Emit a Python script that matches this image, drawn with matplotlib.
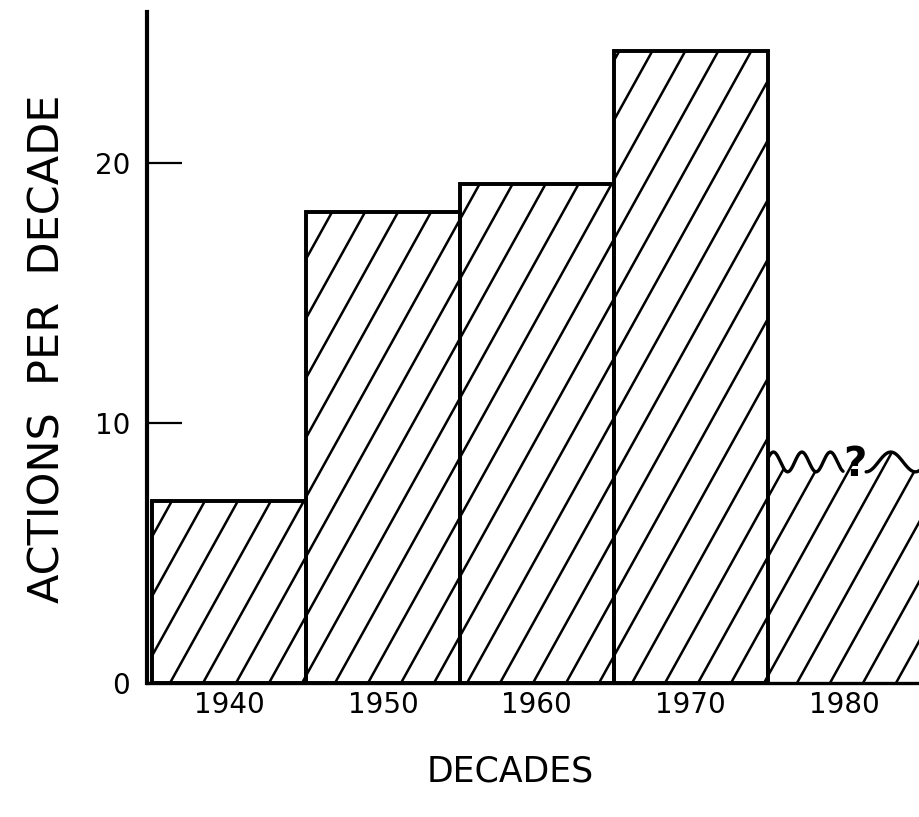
import numpy as np
import matplotlib
matplotlib.use("Agg")
import matplotlib.pyplot as plt
from matplotlib.collections import LineCollection
from matplotlib.patches import Polygon

# ---- data ----
decades = [1940, 1950, 1960, 1970, 1980]
actions = [7.0, 18.1, 19.2, 24.3, 8.5]
tick_labels = ["1940", "1950", "1960", "1970", "1980"]
y_ticks = [0, 10, 20]
y_tick_labels = ["0", "10", "20"]
uncertain_mark = "?"

plt.rcParams['font.family'] = ['DejaVu Sans']

W, H = 920, 817
fig = plt.figure(figsize=(W / 100, H / 100), dpi=100)
ax = fig.add_axes([147 / W, 134 / H, (W - 147) / W, (683 - 12) / H])
ax.set_xlim(1934.67, 1984.9)
ax.set_ylim(0, 25.8)

bars = ax.bar(decades, actions, width=10, align='center',
              facecolor='white', edgecolor='black', linewidth=2.6, zorder=2)
# last (uncertain) bar: no outline, drawn with wavy top instead
bars[-1].set_edgecolor('none')

# ---- hatch helper (pixel-space diagonal lines) ----
ang = np.deg2rad(61)
spacing = 33.0
x0_px = 170.0
base_px = 134.0
inv = ax.transData.inverted()


def hatch_lines():
    segs = []
    for k in range(-30, 40):
        xb = x0_px + k * spacing
        y0, y1 = base_px - 20, base_px + 720
        xa = xb + (y0 - base_px) / np.tan(ang)
        xc = xb + (y1 - base_px) / np.tan(ang)
        p = inv.transform([[xa, y0], [xc, y1]])
        segs.append(p)
    return segs


for b in bars[:-1]:
    lc = LineCollection(hatch_lines(), colors='black', linewidths=1.8, zorder=3)
    ax.add_collection(lc)
    lc.set_clip_path(b)
    ax.add_patch(plt.Rectangle(b.get_xy(), b.get_width(), b.get_height(),
                               fill=False, edgecolor='black', linewidth=2.6, zorder=4))

# ---- uncertain 1980 bar: wavy top ----
lb = bars[-1]
left = lb.get_x()
v = lb.get_height()
xa = np.linspace(left, left + 4.9, 150)
ya = v + 0.38 * np.sin(2 * np.pi * (xa - left) / 1.85 + 0.3)
xb2 = np.linspace(left + 6.4, 1985.6, 120)
yb2 = v + 0.38 * np.sin(2 * np.pi * (xb2 - (left + 6.4)) / 3.2 - np.pi / 2)
ax.plot(xa, ya, color='black', lw=2.4, zorder=4, solid_capstyle='round')
ax.plot(xb2, yb2, color='black', lw=2.4, zorder=4, solid_capstyle='round')
ax.vlines(left, 0, ya[0], colors='black', lw=2.6, zorder=4)
ax.text(left + 5.65, v - 0.1, uncertain_mark, fontsize=29, fontweight='bold',
        ha='center', va='center', zorder=5)

xs = np.concatenate([xa, np.linspace(xa[-1], xb2[0], 10)[1:-1], xb2])
ys = np.concatenate([ya, np.full(8, v), yb2])
clip_poly = Polygon(np.column_stack([np.r_[xs, xs[-1], xs[0]], np.r_[ys, 0, 0]]),
                    closed=True, transform=ax.transData, facecolor='none', edgecolor='none')
ax.add_patch(clip_poly)
lc = LineCollection(hatch_lines(), colors='black', linewidths=1.8, zorder=3)
ax.add_collection(lc)
lc.set_clip_path(clip_poly)

# ---- axes styling ----
for s in ['top', 'right']:
    ax.spines[s].set_visible(False)
ax.spines['left'].set_linewidth(3.0)
ax.spines['bottom'].set_linewidth(2.4)
ax.spines['left'].set_zorder(6)
ax.spines['bottom'].set_zorder(6)

ax.set_yticks(y_ticks)
ax.set_yticklabels(y_tick_labels)
ax.tick_params(axis='y', direction='in', length=25, width=1.6, pad=12,
               labelsize=20)
ax.set_xticks(decades)
ax.set_xticklabels(tick_labels)
ax.tick_params(axis='x', length=0, pad=6, labelsize=20)

fig.text(48 / W, 1 - 349 / H, "ACTIONS  PER  DECADE", rotation=90,
         ha='center', va='center', fontsize=31)
fig.text(510 / W, 1 - 771 / H, "DECADES", ha='center', va='center',
         fontsize=25)

fig.savefig("out.png", dpi=100, facecolor='white')
